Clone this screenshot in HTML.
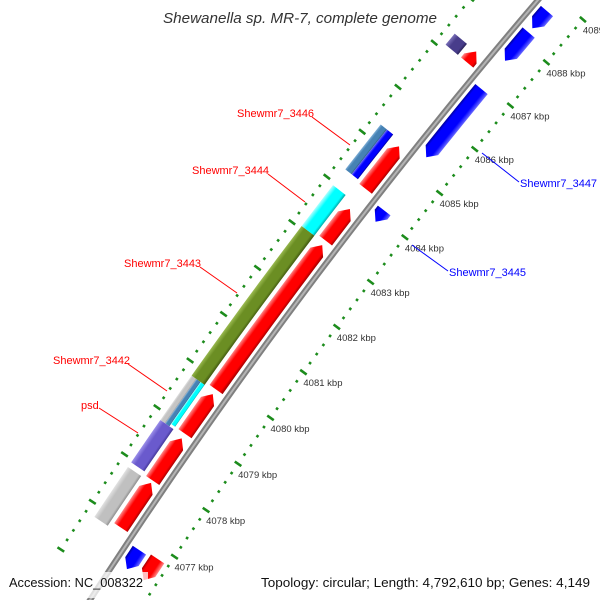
<!DOCTYPE html>
<html><head><meta charset="utf-8"><style>
html,body{margin:0;padding:0;background:#fff;}
svg{display:block;font-family:"Liberation Sans","DejaVu Sans",sans-serif;}
</style></head><body>
<svg id="map" width="600" height="600" viewBox="0 0 600 600" xmlns="http://www.w3.org/2000/svg">
<defs id="defs"></defs>
<g id="ticks"></g>
<path id="backbone-outer" fill="none" stroke="#808080" stroke-width="6"></path>
<path id="backbone-inner" fill="none" stroke="#b4b4b4" stroke-width="2"></path>
<g id="features"></g>
<g font-size="11">
<line x1="312" y1="117" x2="350" y2="145" stroke="#ff0000" stroke-width="1"/>
<text x="237" y="117" fill="#ff0000">Shewmr7_3446</text>
<line x1="268" y1="174" x2="305" y2="202" stroke="#ff0000" stroke-width="1"/>
<text x="192" y="174" fill="#ff0000">Shewmr7_3444</text>
<line x1="200" y1="267" x2="237" y2="293" stroke="#ff0000" stroke-width="1"/>
<text x="124" y="267" fill="#ff0000">Shewmr7_3443</text>
<line x1="128" y1="364" x2="167" y2="391" stroke="#ff0000" stroke-width="1"/>
<text x="53" y="364" fill="#ff0000">Shewmr7_3442</text>
<line x1="99" y1="408" x2="138" y2="433" stroke="#ff0000" stroke-width="1"/>
<text x="81" y="409" fill="#ff0000">psd</text>
<line x1="482" y1="153" x2="519" y2="182" stroke="#0000ff" stroke-width="1"/>
<text x="520" y="187" fill="#0000ff">Shewmr7_3447</text>
<line x1="412" y1="245" x2="448" y2="271" stroke="#0000ff" stroke-width="1"/>
<text x="449" y="276" fill="#0000ff">Shewmr7_3445</text>
</g>
<text x="300" y="23" text-anchor="middle" font-size="14.5" font-style="italic" fill="#333" textLength="274" lengthAdjust="spacingAndGlyphs">Shewanella sp. MR-7, complete genome</text>
<rect x="4" y="572" width="144" height="26" fill="#fff" opacity="0.75"/>
<text x="9" y="587" font-size="13" fill="#111" textLength="134" lengthAdjust="spacingAndGlyphs">Accession: NC_008322</text>
<rect x="256" y="572" width="340" height="26" fill="#fff" opacity="0.75"/>
<text x="590" y="587" font-size="13" text-anchor="end" fill="#111" textLength="329" lengthAdjust="spacingAndGlyphs">Topology: circular; Length: 4,792,610 bp; Genes: 4,149</text>
</svg>
<script>
// ---- data ----
const featStart = [4076.9, 4077.9, 4078.9, 4079.85, 4083.1, 4084.25, 4087.1,
                   4076.8, 4077.95, 4078.85, 4078.85, 4078.9, 4079.8, 4083.05, 4084.3, 4084.3, 4087.1,
                   4076.35, 4083.9, 4085.35, 4087.55, 4088.3, 4076.35];
const featEnd   = [4077.85, 4078.8, 4079.75, 4083.0, 4083.8, 4085.2, 4087.35,
                   4077.85, 4078.85, 4079.8, 4079.8, 4079.8, 4083.05, 4083.95, 4085.3, 4085.3, 4087.35,
                   4076.75, 4084.15, 4086.9, 4088.2, 4088.7, 4076.8];
const featStrand = [1,1,1,1,1,1,1, 0,0,0,0,0,0,0,0,0,0, -1,-1,-1,-1,-1,-1];
const featTrack  = ['fr','fr','fr','fr','fr','fr','fr',
                    'o','o','o1','o2','o3','o','o','o4','o5','o',
                    'rv','rv','rv','rv','rv','rv2'];
const featColor  = ['red','red','red','red','red','red','red',
                    'gray','purple','lgray','steel','cyan','olive','cyan','steel','blue','slate',
                    'blue','blue','blue','blue','blue','red'];
const featName   = ['cds-4077','cds-4078','cds-4079','cds-shewmr7-3443','cds-shewmr7-3444','cds-shewmr7-3446','cds-4087',
                    'gene-4077','gene-psd','gene-3442-a','gene-3442-b','gene-3442-c','gene-shewmr7-3443','gene-shewmr7-3444','gene-3446-a','gene-3446-b','gene-4087',
                    'cds-rev-4076','cds-shewmr7-3445','cds-shewmr7-3447','cds-rev-4087','cds-rev-4088','cds-rev2-4076'];
const tickMajor = [4076,4077,4078,4079,4080,4081,4082,4083,4084,4085,4086,4087,4088,4089];
const tickLabels = ['4076 kbp','4077 kbp','4078 kbp','4079 kbp','4080 kbp','4081 kbp','4082 kbp','4083 kbp','4084 kbp','4085 kbp','4086 kbp','4087 kbp','4088 kbp','4089 kbp'];

// ---- geometry (calibrated from the picture) ----
const NS='http://www.w3.org/2000/svg';
const A=[538,0],B=[269,340],C=[90,600];
const dd=2*(A[0]*(B[1]-C[1])+B[0]*(C[1]-A[1])+C[0]*(A[1]-B[1]));
const sq=p=>p[0]*p[0]+p[1]*p[1];
const cx=(sq(A)*(B[1]-C[1])+sq(B)*(C[1]-A[1])+sq(C)*(A[1]-B[1]))/dd;
const cy=(sq(A)*(C[0]-B[0])+sq(B)*(A[0]-C[0])+sq(C)*(B[0]-A[0]))/dd;
const R=Math.hypot(A[0]-cx,A[1]-cy);
const T0=[175,557],T1=[546,62];
const th0=Math.atan2(T0[1]-cy,T0[0]-cx), th1=Math.atan2(T1[1]-cy,T1[0]-cx);
const rIn=(Math.hypot(T0[0]-cx,T0[1]-cy)+Math.hypot(T1[0]-cx,T1[1]-cy))/2;
const rOut=R+52;
function ang(k){return th0+(k-4077)*(th1-th0)/11;}
function pt(k,r){const a=ang(k);return [cx+r*Math.cos(a),cy+r*Math.sin(a)];}
const bands={fr:[6,22],rv:[-22,-6],rv2:[-42,-26],o:[26,42],o1:[36,42],o2:[31,36],o3:[26,31],o4:[34,42],o5:[26,34]};
const pal={red:['#ff8a8a','#ff0000','#a80000'],blue:['#6a6aff','#0000ff','#00009a'],olive:['#9cbc52','#6b8e23','#465f12'],
  cyan:['#b0ffff','#00ffff','#00a8a8'],gray:['#e2e2e2','#c0c0c0','#8e8e8e'],lgray:['#e2e2e2','#c4c4c4','#9a9a9a'],
  purple:['#9c90ea','#6a5acd','#45389a'],steel:['#80b0d8','#4682b4','#2c5a80'],slate:['#7a70b8','#483d8b','#2a2258']};

// backbone
(function(){
  let d='';
  for(let k=4075;k<=4090.01;k+=0.25){const p=pt(k,R);d+=(d?'L':'M')+p[0].toFixed(2)+','+p[1].toFixed(2);}
  document.getElementById('backbone-outer').setAttribute('d',d);
  document.getElementById('backbone-inner').setAttribute('d',d);
})();

// ticks
(function(){
  const g=document.getElementById('ticks');
  function tick(k,r,len,name){
    const a=pt(k,r-len/2),b=pt(k,r+len/2);
    const l=document.createElementNS(NS,'line');
    
    
    l.setAttribute('x1',a[0]);l.setAttribute('y1',a[1]);l.setAttribute('x2',b[0]);l.setAttribute('y2',b[1]);
    l.setAttribute('stroke','#1c8c1c');l.setAttribute('stroke-width','2.6');
    g.appendChild(l);
  }
  const lo=tickMajor[0],hi=tickMajor[tickMajor.length-1];
  for(let i=0;i<=(hi-lo)*5;i++){
    const k=lo+i*0.2; if(i%5===0) continue;
    tick(k,rIn,2.6,'minor-tick-inner');
    tick(k,rOut,2.6,'minor-tick-outer');
  }
  tickMajor.forEach((k,i)=>{
    tick(k,rIn,8,'major-tick-inner');
    tick(k,rOut,8,'major-tick-outer');
    const p=pt(k,rIn);
    const t=document.createElementNS(NS,'text');
    
    
    t.setAttribute('x',(p[0]).toFixed(1));t.setAttribute('y',(p[1]+14).toFixed(1));
    t.setAttribute('font-size','9.5');t.setAttribute('fill','#333');
    t.textContent=tickLabels[i];
    g.appendChild(t);
  });
})();

// features
(function(){
  const g=document.getElementById('features'),defs=document.getElementById('defs');
  const H=0.16;
  featStart.forEach((k1,i)=>{
    const k2=featEnd[i],bd=bands[featTrack[i]],r1=R+bd[0],r2=R+bd[1],rm=(r1+r2)/2,s=featStrand[i];
    const outer=r1>R?r2:r1, inner=r1>R?r1:r2;
    let a=k1,b=k2;
    if(s===1)b=Math.max(k1,k2-H);
    if(s===-1)a=Math.min(k2,k1+H);
    const pts=[];
    const n=Math.max(2,Math.ceil((b-a)/0.25));
    if(s===-1)pts.push(pt(k1,rm));
    for(let j=0;j<=n;j++)pts.push(pt(a+(b-a)*j/n,outer));
    if(s===1)pts.push(pt(k2,rm));
    for(let j=n;j>=0;j--)pts.push(pt(a+(b-a)*j/n,inner));
    const km=(k1+k2)/2,go=pt(km,outer),gi=pt(km,inner);
    const gid='g'+i,lg=document.createElementNS(NS,'linearGradient');
    lg.setAttribute('id',gid);lg.setAttribute('gradientUnits','userSpaceOnUse');
    lg.setAttribute('x1',go[0]);lg.setAttribute('y1',go[1]);lg.setAttribute('x2',gi[0]);lg.setAttribute('y2',gi[1]);
    const c=pal[featColor[i]];
    [[0,c[0]],[0.3,c[1]],[0.82,c[1]],[1,c[2]]].forEach(st=>{
      const e=document.createElementNS(NS,'stop');e.setAttribute('offset',st[0]);e.setAttribute('stop-color',st[1]);lg.appendChild(e);});
    defs.appendChild(lg);
    const p=document.createElementNS(NS,'polygon');
    
    
    p.setAttribute('points',pts.map(q=>q[0].toFixed(2)+','+q[1].toFixed(2)).join(' '));
    p.setAttribute('fill','url(#'+gid+')');
    g.appendChild(p);
  });
})();
</script>
</body></html>
